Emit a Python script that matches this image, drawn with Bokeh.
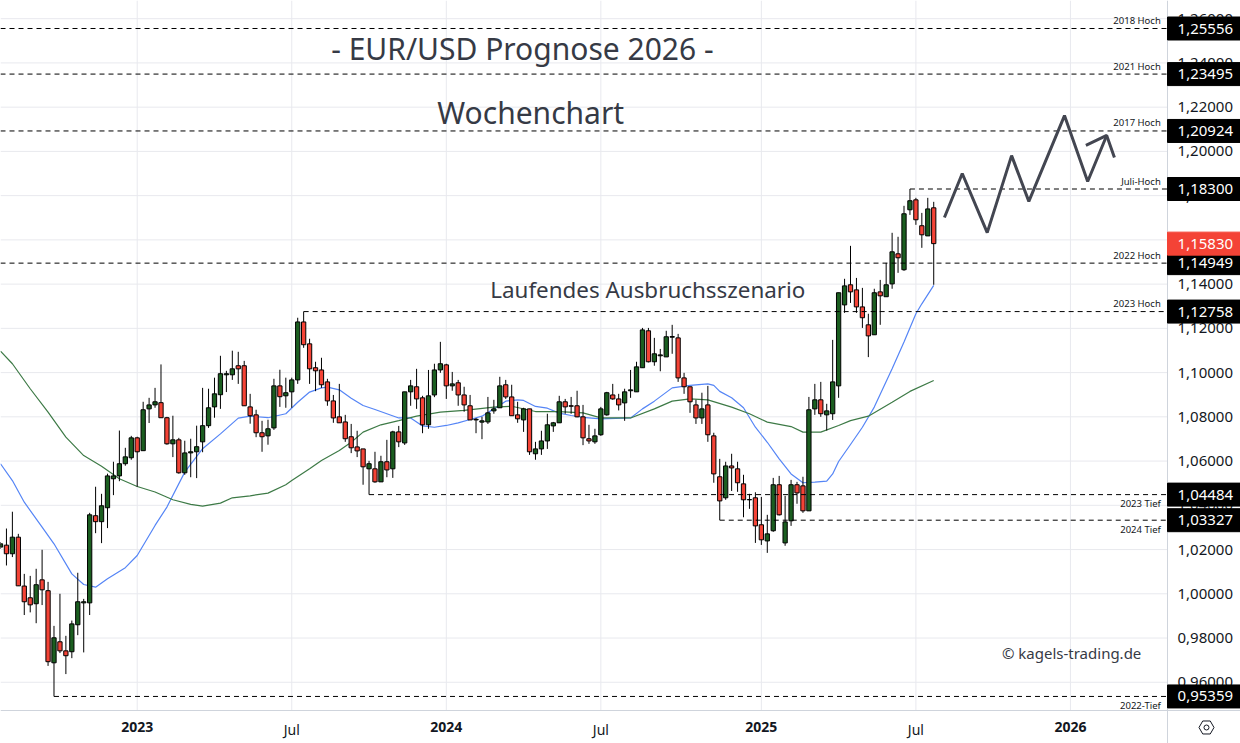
from bokeh.plotting import figure
from bokeh.models import ColumnDataSource, FixedTicker
from bokeh.core.properties import value
from bokeh.embed import file_html
from bokeh.resources import INLINE

# ---- weekly candles (x = weeks since the first week of 2023) ----
first_week = -23
opens = [
 1.0211,1.0220,1.0181,1.0256,1.0035,0.9982,0.9955,1.0063,1.0014,0.9688,
 0.9783,0.9742,0.9738,0.9860,0.9959,0.9959,1.0353,1.0326,1.0389,1.0520,
 1.0533,1.0588,1.0615,1.0705,1.0647,1.0836,1.0854,1.0864,1.0796,1.0678,
 1.0696,1.0547,1.0637,1.0642,1.0687,1.0760,1.0845,1.0900,1.0990,1.0990,
 1.1031,1.1031,1.0845,1.0809,1.0728,1.0714,1.0750,1.0940,1.0895,1.0913,
 1.0967,1.1229,1.1130,1.1022,1.1012,1.0958,1.0872,1.0800,1.0777,1.0710,
 1.0664,1.0655,1.0565,1.0565,1.0506,1.0597,1.0565,1.0732,1.0682,1.0913,
 1.0936,1.0886,1.0764,1.0899,1.1012,1.1035,1.0940,1.0954,1.0899,1.0850,
 1.0786,1.0776,1.0777,1.0827,1.0841,1.0945,1.0890,1.0809,1.0786,1.0836,
 1.0633,1.0655,1.0691,1.0759,1.0773,1.0868,1.0850,1.0850,1.0800,1.0701,
 1.0687,1.0719,1.0809,1.0899,1.0881,1.0863,1.0918,1.0913,1.1022,1.1189,
 1.1049,1.1076,1.1071,1.1160,1.1157,1.0976,1.0936,1.0854,1.0795,1.0854,
 1.0714,1.0529,1.0434,1.0578,1.0565,1.0497,1.0425,1.0434,1.0312,1.0239,
 1.0285,1.0493,1.0230,1.0330,1.0493,1.0488,1.0375,1.0836,1.0877,1.0809,
 1.0814,1.0940,1.1306,1.1397,1.1374,1.1297,1.1216,1.1171,1.1365,1.1343,
 1.1401,1.1537,1.1465,1.1736,1.1781,1.1664,1.1618,1.1745]
closes = [
 1.0226,1.0181,1.0256,1.0036,0.9964,0.9950,1.0041,1.0018,0.9693,0.9801,
 0.9742,0.9720,0.9864,0.9964,0.9964,1.0357,1.0326,1.0398,1.0533,1.0533,
 1.0588,1.0619,1.0705,1.0642,1.0832,1.0854,1.0868,1.0796,1.0678,1.0696,
 1.0547,1.0637,1.0642,1.0665,1.0760,1.0841,1.0904,1.0995,1.0995,1.1017,
 1.1017,1.0850,1.0805,1.0728,1.0710,1.0746,1.0940,1.0891,1.0909,1.0967,
 1.1229,1.1126,1.1017,1.1008,1.0945,1.0872,1.0795,1.0773,1.0701,1.0660,
 1.0646,1.0574,1.0588,1.0506,1.0597,1.0560,1.0732,1.0687,1.0913,1.0940,
 1.0881,1.0764,1.0895,1.1012,1.1040,1.0940,1.0949,1.0899,1.0854,1.0786,
 1.0789,1.0782,1.0818,1.0836,1.0940,1.0890,1.0805,1.0791,1.0836,1.0642,
 1.0655,1.0691,1.0764,1.0773,1.0868,1.0845,1.0848,1.0800,1.0705,1.0691,
 1.0714,1.0836,1.0909,1.0881,1.0854,1.0913,1.0922,1.1026,1.1193,1.1049,
 1.1085,1.1080,1.1162,1.1163,1.0976,1.0936,1.0868,1.0795,1.0836,1.0719,
 1.0542,1.0420,1.0578,1.0569,1.0502,1.0425,1.0426,1.0307,1.0244,1.0271,
 1.0493,1.0357,1.0325,1.0493,1.0456,1.0375,1.0832,1.0877,1.0814,1.0827,
 1.0958,1.1361,1.1392,1.1365,1.1297,1.1248,1.1166,1.1361,1.1347,1.1397,
 1.1546,1.1519,1.1718,1.1777,1.1691,1.1623,1.1740,1.15830]
highs = [
 1.0234,1.0295,1.0371,1.0271,1.0090,1.0081,1.0113,1.0199,1.0054,0.9855,
 1.0000,0.9810,0.9879,1.0095,0.9977,1.0366,1.0484,1.0452,1.0543,1.0597,
 1.0738,1.0660,1.0714,1.0710,1.0868,1.0886,1.0931,1.1037,1.0800,1.0805,
 1.0705,1.0692,1.0701,1.0760,1.0931,1.0927,1.0977,1.1076,1.1008,1.1099,
 1.1094,1.1053,1.0904,1.0832,1.0782,1.0787,1.0972,1.1013,1.0977,1.0977,
 1.1248,1.12758,1.1153,1.1049,1.1067,1.0972,1.0899,1.0949,1.0809,1.0768,
 1.0737,1.0655,1.0601,1.0642,1.0624,1.0696,1.0737,1.0759,1.0913,1.0967,
 1.1017,1.0895,1.1012,1.1040,1.1139,1.1040,1.1003,1.0967,1.0936,1.0899,
 1.0795,1.0800,1.0890,1.0877,1.0981,1.0967,1.0945,1.0868,1.0841,1.0836,
 1.0687,1.0737,1.0814,1.0777,1.0895,1.0881,1.0890,1.0918,1.0854,1.0764,
 1.0746,1.0845,1.0913,1.0949,1.0904,1.0927,1.1012,1.1049,1.1202,1.1202,
 1.1157,1.1107,1.1189,1.1216,1.1175,1.0999,1.0936,1.0877,1.0909,1.0940,
 1.0728,1.0610,1.0597,1.0633,1.0597,1.0538,1.0452,1.0459,1.0438,1.0357,
 1.0524,1.0533,1.0443,1.0515,1.0506,1.0529,1.0890,1.0949,1.0958,1.0859,
 1.1148,1.1361,1.1424,1.1573,1.1428,1.1383,1.1266,1.1379,1.1419,1.1496,
 1.1632,1.1614,1.1754,1.1830,1.1790,1.1722,1.1790,1.1772]
lows = [
 1.0203,1.0128,1.0166,1.0036,0.9904,0.9916,0.9867,0.9949,0.9674,0.95359,
 0.9732,0.9637,0.9709,0.9813,0.9735,0.9904,1.0274,1.0229,1.0297,1.0446,
 1.0509,1.0579,1.0606,1.0484,1.0647,1.0772,1.0841,1.0796,1.0674,1.0618,
 1.0543,1.0538,1.0527,1.0523,1.0640,1.0750,1.0796,1.0836,1.0912,1.0967,
 1.0949,1.0850,1.0769,1.0708,1.0642,1.0674,1.0741,1.0845,1.0841,1.0841,
 1.0949,1.1112,1.0949,1.0916,1.0931,1.0850,1.0773,1.0773,1.0687,1.0636,
 1.0618,1.0493,1.04484,1.0502,1.0506,1.0527,1.0524,1.0663,1.0673,1.0850,
 1.0836,1.0726,1.0746,1.0889,1.0999,1.0881,1.0918,1.0850,1.0823,1.0786,
 1.0726,1.0699,1.0768,1.0814,1.0841,1.0881,1.0805,1.0773,1.0732,1.0628,
 1.0606,1.0628,1.0655,1.0732,1.0773,1.0814,1.0814,1.0798,1.0672,1.0678,
 1.0678,1.0714,1.0805,1.0877,1.0829,1.0782,1.0886,1.0913,1.1022,1.1046,
 1.1031,1.1006,1.1071,1.1085,1.0958,1.0904,1.0818,1.0768,1.0768,1.0687,
 1.0502,1.03327,1.0425,1.0465,1.0461,1.0346,1.0384,1.0230,1.0221,1.0185,
 1.0280,1.0354,1.0217,1.0307,1.0407,1.0366,1.0375,1.0809,1.0800,1.0738,
 1.0786,1.0886,1.1270,1.1315,1.1270,1.1202,1.1070,1.1171,1.1216,1.1343,
 1.1379,1.1451,1.1460,1.1713,1.1668,1.1564,1.1618,1.1397]

# ---- moving averages ----
ma_fast_w = [-23,-21,-19,-16,-14,-11,-9,-7,-5,-2,0,3,5,8,11,14,17,19,22,25,27,29,31,32,34,36,38,40,42,44,46,48,50,52,54,56,58,60,62,64,65,67,69,71,73,75,78,83,85,87,90,93,96,97,98,100,102,104,106,108,110,112,114,116,117,118,120,122,124,127,129,131,132,134]
ma_fast_p = [1.0588,1.0512,1.0414,1.0301,1.0226,1.0090,1.0042,1.0030,1.0068,1.0118,1.0173,1.0309,1.0392,1.0550,1.0656,1.0723,1.0794,1.0803,1.0796,1.0814,1.0866,1.0912,1.0931,1.0934,1.0922,1.0884,1.0851,1.0833,1.0814,1.0795,1.0795,1.0759,1.0753,1.0761,1.0773,1.0788,1.0803,1.0836,1.0871,1.0877,1.0874,1.0847,1.0839,1.0817,1.0806,1.0798,1.0791,1.0795,1.0836,1.0871,1.0931,1.0942,1.0949,1.0942,1.0915,1.0886,1.0841,1.0753,1.0685,1.0610,1.0542,1.0502,1.0505,1.0509,1.0542,1.0598,1.0675,1.0753,1.0844,1.1017,1.1138,1.1266,1.1311,1.1394]
ma_slow_w = [-23,-21,-18,-15,-12,-9,-6,-3,0,3,6,9,11,14,16,19,22,25,26,29,31,34,36,38,41,44,47,51,55,60,63,67,71,75,78,83,87,90,93,96,100,103,106,110,112,115,118,120,123,127,130,134]
ma_slow_p = [1.1097,1.1040,1.0927,1.0821,1.0708,1.0625,1.0577,1.0520,1.0485,1.0460,1.0425,1.0404,1.0396,1.0410,1.0434,1.0443,1.0455,1.0493,1.0512,1.0565,1.0603,1.0648,1.0685,1.0731,1.0764,1.0783,1.0803,1.0821,1.0829,1.0844,1.0848,1.0824,1.0824,1.0818,1.0795,1.0795,1.0836,1.0871,1.0881,1.0877,1.0844,1.0814,1.0776,1.0756,1.0731,1.0731,1.0761,1.0783,1.0803,1.0866,1.0915,1.0964]

# ---- hand-drawn forecast path ----
path_w = [135.8,138.8,143.0,147.1,150.0,156.0,159.9,163.1]
path_p = [1.1701,1.1900,1.1633,1.1981,1.1774,1.2162,1.1864,1.2072]
head_w = [159.6,163.1,164.4]
head_p = [1.2027,1.2072,1.1972]

# ---- horizontal levels ----
level_prices = [1.25556,1.23495,1.20924,1.18300,1.14949,1.12758,1.04484,1.03327,0.95359]
level_texts  = ["1,25556","1,23495","1,20924","1,18300","1,14949","1,12758","1,04484","1,03327","0,95359"]
level_names  = ["2018 Hoch","2021 Hoch","2017 Hoch","Juli-Hoch","2022 Hoch","2023 Hoch","2023 Tief","2024 Tief","2022-Tief"]
level_starts = [-23,-23,-23,130,-23,28,39,98,-14]
level_below  = [False,False,False,False,False,False,True,True,True]
last_price = 1.15830
last_price_text = "1,15830"

# ---- axes ----
price_ticks = [0.96,0.98,1.00,1.02,1.04,1.06,1.08,1.10,1.12,1.14,1.16,1.18,1.20,1.22,1.24,1.26]
price_tick_labels = ["0,96000","0,98000","1,00000","1,02000","1,04000","1,06000","1,08000","1,10000","1,12000","1,14000","1,16000","1,18000","1,20000","1,22000","1,24000","1,26000"]
year_ticks = [0,52,105,157]
year_labels = ["2023","2024","2025","2026"]
mid_ticks = [26,78,131]
mid_labels = ["Jul","Jul","Jul"]

# ---- captions ----
caption_texts = ["- EUR/USD Prognose 2026 -","Wochenchart","Laufendes Ausbruchsszenario","© kagels-trading.de"]
caption_w = [64.8,66.2,85.9,157.2]
caption_p = [1.2465,1.2176,1.1376,0.9732]
caption_sizes = ["30px","30px","22.4px","15px"]

FONT = "Noto Sans"
TEXT = "#131722"
W, H = 1240, 743
X_AXIS_AT = 173.33      # the price scale starts here
Y_AXIS_AT = 0.94724     # the time scale starts here
Y_TOP = 1.26822
X_LABELS = 179.47       # middle of the price column
X_BADGE_TEXT = 175.02
Y_TIME_TEXT = 0.93865
Y_ICON = 0.93956
X_ICON = 179.89

p = figure(width=W, height=H, frame_width=W, frame_height=H,
           output_backend="svg", toolbar_location=None,
           x_range=(-23.0, 185.61), y_range=(0.93232, Y_TOP),
           y_axis_location="right", min_border_left=0, min_border_top=0,
           min_border_right=0, min_border_bottom=0,
           background_fill_color="white", outline_line_color=None)

p.xaxis.fixed_location = Y_AXIS_AT
p.yaxis.fixed_location = X_AXIS_AT
p.xaxis.ticker = FixedTicker(ticks=year_ticks)
p.xaxis.major_label_overrides = dict(zip(year_ticks, year_labels))
p.xaxis.major_label_text_font = FONT
p.xaxis.major_label_text_font_style = "bold"
p.xaxis.major_label_text_font_size = "14px"
p.xaxis.major_label_text_color = TEXT
p.xaxis.major_label_standoff = 12
p.yaxis.ticker = FixedTicker(ticks=price_ticks)
p.yaxis.major_label_overrides = dict(zip(price_ticks, price_tick_labels))
p.yaxis.major_label_text_font = FONT
p.yaxis.major_label_text_font_size = "15px"
p.yaxis.major_label_text_color = TEXT
p.yaxis.major_label_standoff = 10
for ax in (p.xaxis, p.yaxis):
    ax.axis_line_color = "#cfd4dc"
    ax.major_tick_line_color = None
    ax.minor_tick_line_color = None
    ax.major_tick_out = 0
    ax.major_tick_in = 0
    ax.minor_tick_out = 0

# grid lines stop at the scales
p.grid.visible = False
grid_x = sorted(year_ticks + mid_ticks)
p.segment(grid_x, [Y_AXIS_AT] * len(grid_x), grid_x, [Y_TOP] * len(grid_x), line_color="#e8e9ee", line_width=1)
p.segment([-23.0] * len(price_ticks), price_ticks, [X_AXIS_AT] * len(price_ticks), price_ticks, line_color="#e8e9ee", line_width=1)

# moving averages sit under the candles
p.line(ma_fast_w, ma_fast_p, line_color="#5585f6", line_width=1.2)
p.line(ma_slow_w, ma_slow_p, line_color="#3d7a46", line_width=1.2)

weeks = [first_week + i for i in range(len(opens))]
src = ColumnDataSource(dict(
    x=weeks, o=opens, c=closes, h=highs, l=lows,
    top=[max(a, b) for a, b in zip(opens, closes)],
    bot=[min(a, b) for a, b in zip(opens, closes)],
    col=["#1b5e20" if b >= a else "#f44336" for a, b in zip(opens, closes)]))
p.segment("x", "h", "x", "l", source=src, line_color="black", line_width=1)
p.vbar("x", 0.72, "bot", "top", source=src, fill_color="col", line_color="black", line_width=1)

# level lines
for start, price in zip(level_starts, level_prices):
    p.line([start, X_AXIS_AT], [price, price], line_color="black", line_width=1, line_dash=[5, 4])

# level names
x_name = 172.2
for price, name, below in zip(level_prices, level_names, level_below):
    p.text([x_name], [price], text=[name], text_align="right", text_baseline="middle",
           text_font=value(FONT), text_font_size="9.5px", text_color=TEXT,
           y_offset=9 if below else -8)

# forecast path
p.line(path_w, path_p, line_color="#434651", line_width=3)
p.line(head_w, head_p, line_color="#434651", line_width=3)

# captions
for t, x, y, s in zip(caption_texts, caption_w, caption_p, caption_sizes):
    p.text([x], [y], text=[t], text_align="center", text_baseline="middle",
           text_font=value(FONT), text_font_size=s, text_color="#363a45")

# Jul labels under the axis
p.text(mid_ticks, [Y_TIME_TEXT] * len(mid_ticks), text=mid_labels, text_align="center",
       text_baseline="middle", text_font=value(FONT), text_font_size="14px", text_color=TEXT)

# price badges over the axis labels
def badge(price, text, colour):
    p.rect([X_LABELS], [price], width=73, height=23, width_units="screen", height_units="screen",
           fill_color=colour, line_color=colour, level="overlay")
    p.text([X_BADGE_TEXT], [price], text=[text], text_align="left", text_baseline="middle",
           text_font=value(FONT), text_font_size="15px", text_color="white", level="overlay")
for price, text in zip(level_prices, level_texts):
    badge(price, text, "#000000")
badge(last_price, last_price_text, "#f44336")

# settings icon: outlined hexagon with a small circle
p.scatter([X_ICON], [Y_ICON], marker="hex", size=15, fill_color=None, line_color=TEXT, line_width=1)
p.scatter([X_ICON], [Y_ICON], marker="circle", size=5, fill_color=None, line_color=TEXT, line_width=1)

open("out.html", "w").write(file_html(p, INLINE))
